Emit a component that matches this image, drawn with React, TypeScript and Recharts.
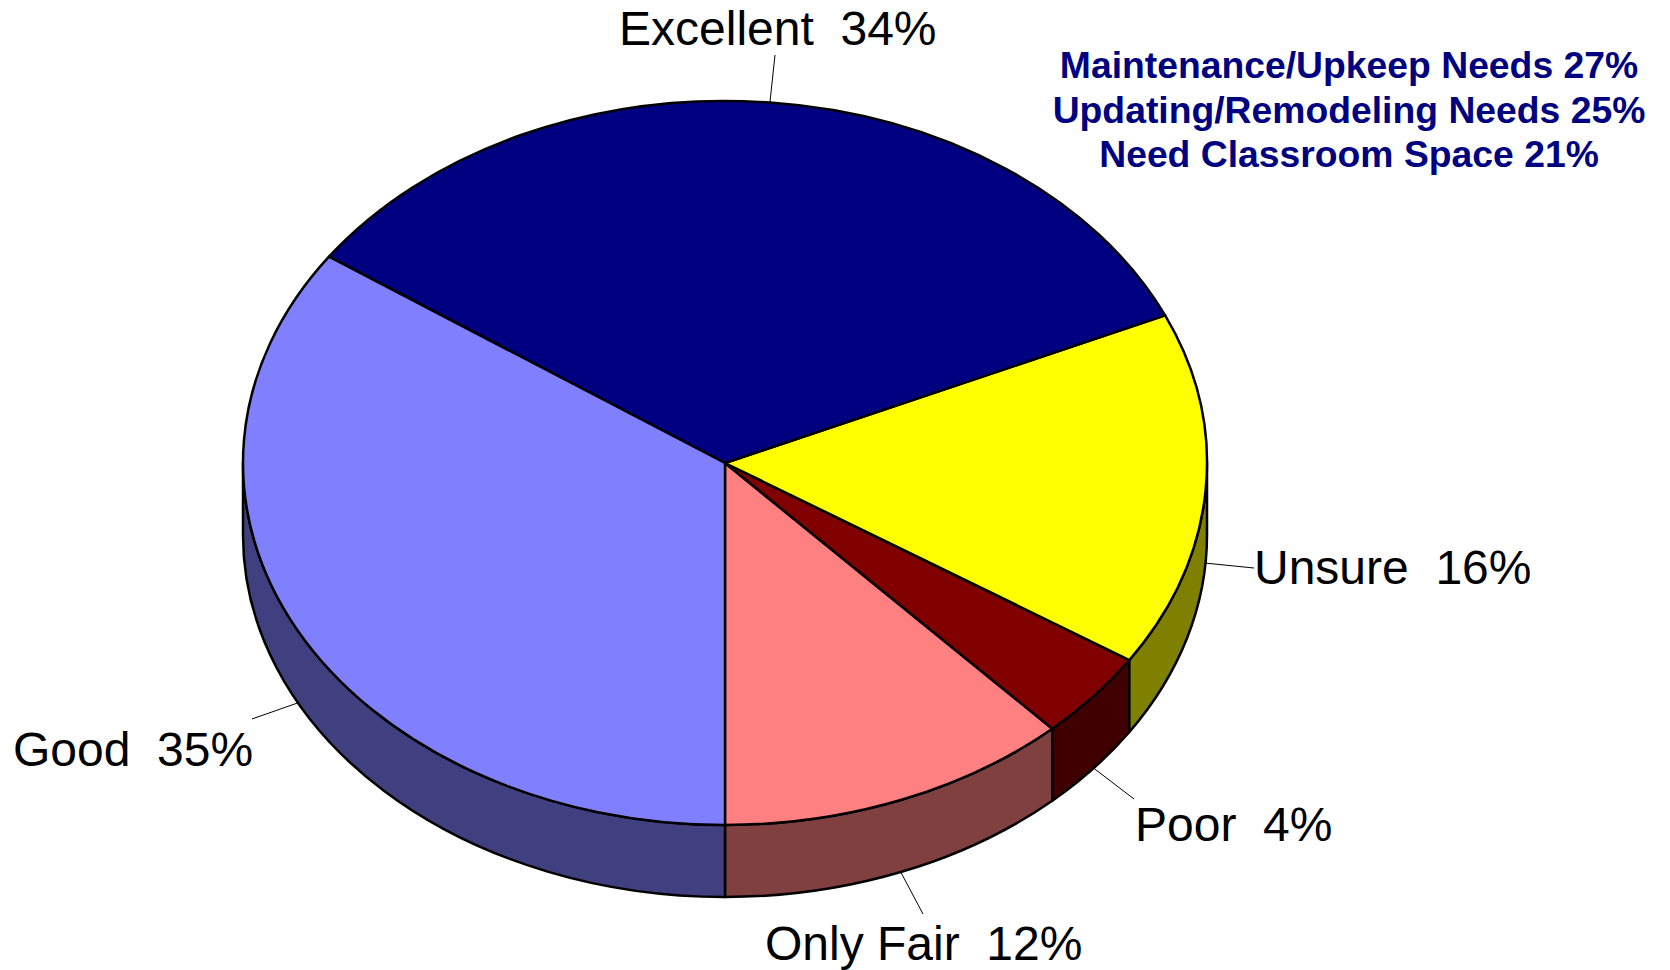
import React from 'react'
import { PieChart, Pie, Cell } from 'recharts'

const categories = ['Only Fair', 'Poor', 'Unsure', 'Excellent', 'Good']
const percents = [12, 4, 16, 34, 35]
const topColors = ['#ff8080', '#800000', '#ffff00', '#000080', '#8080ff']
const wallColors = ['#804040', '#400000', '#808000', '#000040', '#404080']
const notes = [
  'Maintenance/Upkeep Needs 27%',
  'Updating/Remodeling Needs 25%',
  'Need Classroom Space 21%',
]

const tableData = categories.map((name, i) => ({ name, value: percents[i] }))

// pie is drawn tilted: ellipse instead of circle
const CX = 725
const CY = 463
const RX = 482
const RY = 362
const DEPTH = 72
const RAD = Math.PI / 180

// where each label text sits and where its leader line stops
const labelSpots: any = {
  'Only Fair': { x: 765, y: 960, lx: 923, ly: 914 },
  Poor: { x: 1135, y: 841, lx: 1134, ly: 799 },
  Unsure: { x: 1254, y: 584, lx: 1254, ly: 568 },
  Excellent: { x: 619, y: 45, lx: 775, ly: 55 },
  Good: { x: 13, y: 766, lx: 252, ly: 719 },
}

const px = (a: number) => CX + RX * Math.cos(a * RAD)
const py = (a: number) => CY - RY * Math.sin(a * RAD)

const TopSlice = ({ startAngle, endAngle, fill }: any) => {
  const large = endAngle - startAngle > 180 ? 1 : 0
  const d = `M${CX},${CY} L${px(startAngle)},${py(startAngle)} A${RX},${RY} 0 ${large} 0 ${px(endAngle)},${py(endAngle)} Z`
  return <path d={d} fill={fill} stroke="#000" strokeWidth={2.5} strokeLinejoin="round" />
}

// side wall, only the part of the rim on the lower half of the ellipse shows
const WallSlice = ({ startAngle, endAngle, fill }: any) => {
  let parts: number[][] = []
  for (const k of [180, 540]) {
    const a = Math.max(startAngle, k)
    const b = Math.min(endAngle, k + 180)
    if (b > a) parts.push([a, b])
  }
  return (
    <g>
      {parts.map(([a, b], i) => (
        <path
          key={i}
          d={`M${px(a)},${py(a)} A${RX},${RY} 0 0 0 ${px(b)},${py(b)} L${px(b)},${py(b) + DEPTH} A${RX},${RY} 0 0 1 ${px(a)},${py(a) + DEPTH} Z`}
          fill={fill}
          stroke="#000"
          strokeWidth={2.5}
          strokeLinejoin="round"
        />
      ))}
    </g>
  )
}

const renderLabel = ({ midAngle, name, value }: any) => {
  const spot = labelSpots[name]
  const sx = px(midAngle)
  const lower = Math.sin(midAngle * RAD) < 0
  const sy = py(midAngle) + (lower ? DEPTH : 0)
  return (
    <g key={name}>
      <line x1={sx} y1={sy} x2={spot.lx} y2={spot.ly} stroke="#000" strokeWidth={1} />
      <text x={spot.x} y={spot.y} fontSize={48} fill="#000" style={{ whiteSpace: 'pre' }}>
        {`${name}  ${value}%`}
      </text>
    </g>
  )
}

export default function App() {
  return (
    <div style={{ position: 'absolute', left: 0, top: 0, width: 1670, height: 970, background: '#fff' }}>
      <PieChart
        width={1670}
        height={970}
        margin={{ top: 0, right: 0, bottom: 0, left: 0 }}
        style={{ fontFamily: '"Liberation Sans", Arial, sans-serif' }}
      >
        <Pie
          data={tableData}
          dataKey="value"
          nameKey="name"
          cx={CX}
          cy={CY}
          outerRadius={RX}
          startAngle={270}
          endAngle={630}
          paddingAngle={0}
          stroke="none"
          shape={WallSlice}
          labelLine={false}
          isAnimationActive={false}
        >
          {wallColors.map((c, i) => (
            <Cell key={i} fill={c} />
          ))}
        </Pie>
        <Pie
          data={tableData}
          dataKey="value"
          nameKey="name"
          cx={CX}
          cy={CY}
          outerRadius={RX}
          startAngle={270}
          endAngle={630}
          paddingAngle={0}
          stroke="none"
          shape={TopSlice}
          label={renderLabel}
          labelLine={false}
          isAnimationActive={false}
        >
          {topColors.map((c, i) => (
            <Cell key={i} fill={c} />
          ))}
        </Pie>
        {notes.map((t, i) => (
          <text
            key={t}
            x={1349}
            y={78 + i * 44.7}
            textAnchor="middle"
            fontSize={37.3}
            fontWeight="bold"
            fill="#000080"
          >
            {t}
          </text>
        ))}
      </PieChart>
    </div>
  )
}
